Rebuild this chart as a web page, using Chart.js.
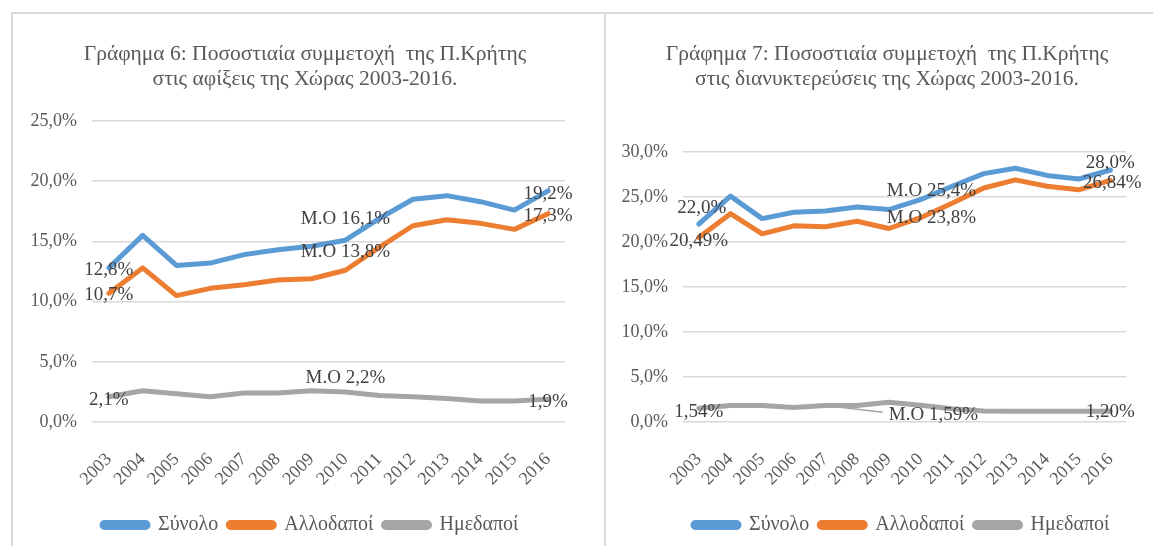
<!DOCTYPE html>
<html><head><meta charset="utf-8">
<script src="https://cdn.jsdelivr.net/npm/chart.js@4.4.1/dist/chart.umd.min.js"></script>
<style>
html,body{margin:0;padding:0;background:#fff;width:1153px;height:546px;overflow:hidden;position:relative;}
canvas{position:absolute;}
#c1{left:12px;top:13px;}
#c2{left:605px;top:13px;}
.b{position:absolute;background:#D9D9D9;}
#bt{left:11px;top:12px;width:1142px;height:2px;}
#bl{left:11px;top:12px;width:2px;height:534px;}
#bm{left:604px;top:12px;width:2px;height:534px;}
</style></head>
<body>
<canvas id="c1" width="593" height="533"></canvas>
<canvas id="c2" width="548" height="533"></canvas>
<div class="b" id="bt"></div><div class="b" id="bl"></div><div class="b" id="bm"></div>
<script>
// ---------- data ----------
const years = ['2003','2004','2005','2006','2007','2008','2009','2010','2011','2012','2013','2014','2015','2016'];
const seriesNames = ['Σύνολο', 'Αλλοδαποί', 'Ημεδαποί'];

const title1 = ['Γράφημα 6: Ποσοστιαία συμμετοχή  της Π.Κρήτης', 'στις αφίξεις της Χώρας 2003-2016.'];
const arrivalsTotal    = [12.8, 15.5, 13.0, 13.2, 13.9, 14.3, 14.6, 15.1, 16.9, 18.5, 18.8, 18.3, 17.6, 19.2];
const arrivalsForeign  = [10.7, 12.8, 10.5, 11.1, 11.4, 11.8, 11.9, 12.6, 14.5, 16.3, 16.8, 16.5, 16.0, 17.3];
const arrivalsDomestic = [2.1, 2.6, 2.35, 2.1, 2.4, 2.4, 2.6, 2.5, 2.2, 2.1, 1.95, 1.75, 1.75, 1.9];
const arrivalsTotalLabels    = ['12,8%','','','','','','','M.O 16,1%','','','','','','19,2%'];
const arrivalsForeignLabels  = ['10,7%','','','','','','','M.O 13,8%','','','','','','17,3%'];
const arrivalsDomesticLabels = ['2,1%','','','','','','','M.O 2,2%','','','','','','1,9%'];
const arrivalsMax = 25;

const title2 = ['Γράφημα 7: Ποσοστιαία συμμετοχή  της Π.Κρήτης', 'στις διανυκτερεύσεις της Χώρας 2003-2016.'];
const nightsTotal    = [22.0, 25.1, 22.6, 23.3, 23.45, 23.9, 23.6, 24.7, 26.2, 27.6, 28.2, 27.4, 27.0, 28.0];
const nightsForeign  = [20.49, 23.15, 20.9, 21.8, 21.7, 22.3, 21.5, 22.7, 24.3, 26.0, 26.9, 26.2, 25.8, 26.84];
const nightsDomestic = [1.54, 1.84, 1.84, 1.6, 1.84, 1.84, 2.2, 1.85, 1.47, 1.22, 1.2, 1.2, 1.2, 1.2];
const nightsTotalLabels    = ['22,0%','','','','','','','M.O 25,4%','','','','','','28,0%'];
const nightsForeignLabels  = ['20,49%','','','','','','','M.O 23,8%','','','','','','26,84%'];
const nightsDomesticLabels = ['1,54%','','','','','','','M.O 1,59%','','','','','','1,20%'];
const nightsMax = 30;

// ---------- styling ----------
const colors = ['#5B9BD5', '#ED7D31', '#A5A5A5'];
const FONT = "'Liberation Serif', 'Times New Roman', serif";

// title drawn at a chosen centre (the original titles are not centred on the plot)
const centredTitle = {
  id: 'centredTitle',
  afterDraw(chart, args, opts) {
    const ctx = chart.ctx;
    ctx.save();
    ctx.font = opts.size + 'px ' + FONT;
    ctx.fillStyle = opts.color;
    ctx.textAlign = 'center';
    ctx.textBaseline = 'middle';
    opts.text.forEach((t, i) => ctx.fillText(t, opts.x, opts.y + i * opts.lineHeight));
    ctx.restore();
  }
};

const pointLabels = {
  id: 'pointLabels',
  afterDatasetsDraw(chart, args, opts) {
    const ctx = chart.ctx;
    ctx.save();
    ctx.font = opts.size + 'px ' + FONT;
    ctx.fillStyle = opts.color;
    ctx.textAlign = 'center';
    ctx.textBaseline = 'middle';
    const placed = {};
    chart.data.datasets.forEach((ds, di) => {
      const meta = chart.getDatasetMeta(di);
      (ds.pointLabels || []).forEach((txt, i) => {
        if (!txt) return;
        const off = ((opts.offsets || {})[di] || {})[i] || [0, 0];
        const p = meta.data[i];
        const x = p.x + off[0], y = p.y + off[1];
        ctx.fillText(txt, x, y);
        placed[di + '_' + i] = {x, y, w: ctx.measureText(txt).width};
      });
    });
    (opts.leaders || []).forEach(l => {
      const lab = placed[l.dataset + '_' + l.label];
      const p = chart.getDatasetMeta(l.dataset).data[l.point];
      if (!lab || !p) return;
      ctx.strokeStyle = l.color;
      ctx.lineWidth = 1.5;
      ctx.beginPath();
      ctx.moveTo(p.x, p.y);
      ctx.lineTo(lab.x - lab.w / 2 - 6, lab.y - 3);
      ctx.stroke();
    });
    ctx.restore();
  }
};

function makeChart(id, title, titleX, data, labels, yMax, padTop, padRight, yWidth, offsets, leaders) {
  const datasets = data.map((d, i) => ({
    label: seriesNames[i],
    data: d,
    pointLabels: labels[i],
    borderColor: colors[i],
    backgroundColor: colors[i],
    borderWidth: 5,
    pointRadius: 0,
    tension: 0,
    borderCapStyle: 'round',
    borderJoinStyle: 'round'
  }));
  return new Chart(document.getElementById(id), {
    type: 'line',
    data: { labels: years, datasets },
    plugins: [pointLabels, centredTitle],
    options: {
      responsive: false,
      animation: false,
      devicePixelRatio: 1,
      layout: { padding: { left: 0, right: padRight, top: padTop, bottom: 1 } },
      plugins: {
        title: { display: false },
        centredTitle: { text: title, x: titleX, y: 41, lineHeight: 25, size: 21.5, color: '#595959' },
        legend: {
          position: 'bottom',
          fullSize: false,
          align: 'start',
          labels: {
            color: '#595959',
            font: { family: FONT, size: 20 },
            boxWidth: 46,
            boxHeight: 5,
            useBorderRadius: true,
            borderRadius: 2.5,
            padding: 10
          }
        },
        tooltip: { enabled: false },
        pointLabels: { size: 19, color: '#404040', offsets, leaders }
      },
      scales: {
        x: {
          offset: true,
          grid: { display: false, drawTicks: false },
          border: { display: false },
          ticks: {
            color: '#595959',
            font: { family: FONT, size: 18 },
            minRotation: 45, maxRotation: 45,
            autoSkip: false,
            padding: 27
          },
          afterFit(s) { s.height = 83; }
        },
        y: {
          min: 0, max: yMax,
          grid: { color: '#D9D9D9', lineWidth: 1.5, drawTicks: false },
          border: { display: false },
          ticks: {
            stepSize: 5,
            color: '#595959',
            font: { family: FONT, size: 18 },
            padding: 15,
            callback: v => v.toFixed(1).replace('.', ',') + '%'
          },
          afterFit(s) { s.width = yWidth; }
        }
      }
    }
  });
}

makeChart('c1', title1, 293, [arrivalsTotal, arrivalsForeign, arrivalsDomestic],
  [arrivalsTotalLabels, arrivalsForeignLabels, arrivalsDomesticLabels], arrivalsMax,
  108, 40, 80,
  { 0: { 0: [0, 2], 7: [0, -21], 13: [0, 3] },
    1: { 0: [0, 2], 7: [0, -18], 13: [0, 2] },
    2: { 0: [0, 3], 7: [0, -14], 13: [0, 3] } },
  []);

makeChart('c2', title2, 282, [nightsTotal, nightsForeign, nightsDomestic],
  [nightsTotalLabels, nightsForeignLabels, nightsDomesticLabels], nightsMax,
  139, 9, 78,
  { 0: { 0: [3, -16], 7: [11, -9], 13: [0, -7] },
    1: { 0: [0, 3], 7: [11, 0], 13: [2, 3] },
    2: { 0: [0, 4], 7: [13, 10], 13: [0, 1] } },
  [{ dataset: 2, label: 7, point: 4, color: '#A5A5A5' }]);
</script>
</body></html>
